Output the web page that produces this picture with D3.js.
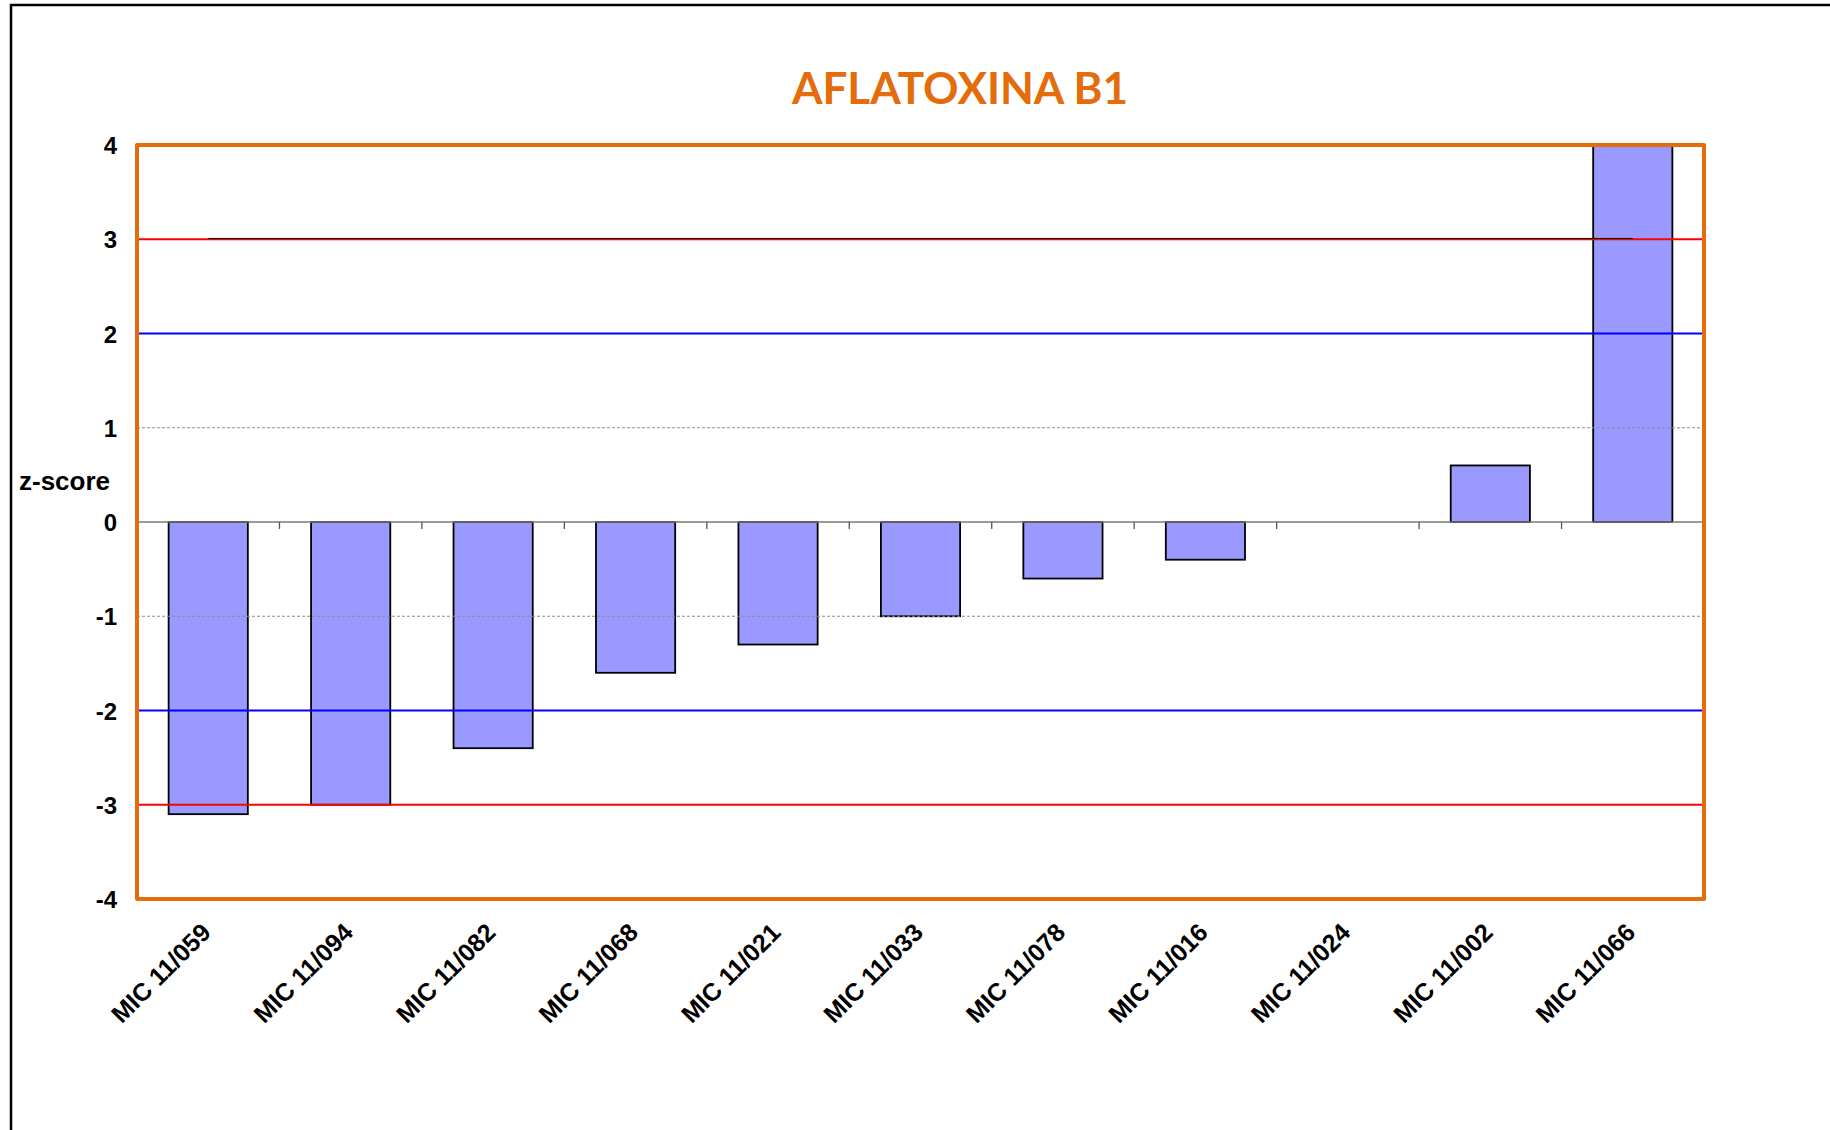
<!DOCTYPE html>
<html>
<head>
<meta charset="utf-8">
<script src="https://cdn.jsdelivr.net/npm/d3@7"></script>
<style>
  html, body { margin: 0; padding: 0; background: #fff; }
  svg { display: block; }
</style>
</head>
<body>
<svg id="chart" width="1830" height="1130"></svg>
<script>
// Laboratories and their z-scores for aflatoxin B1
const labs = ["MIC 11/059", "MIC 11/094", "MIC 11/082", "MIC 11/068", "MIC 11/021",
              "MIC 11/033", "MIC 11/078", "MIC 11/016", "MIC 11/024", "MIC 11/002", "MIC 11/066"];
const zScores = [-3.1, -3.0, -2.4, -1.6, -1.3, -1.0, -0.6, -0.4, 0, 0.6, 4.3];
const yTicks = [-4, -3, -2, -1, 0, 1, 2, 3, 4];
const warningLimits = [-2, 2];   // |z| = 2
const actionLimits = [-3, 3];    // |z| = 3
const gridValues = [-1, 1];
const title = "AFLATOXINA B1";
const yLabel = "z-score";

const svg = d3.select("#chart");
const plotLeft = 137, plotRight = 1704, plotTop = 145, plotBottom = 899;
const orange = "#E46C0A";

// outer frame of the chart object
svg.append("rect")
  .attr("x", 11).attr("y", 5).attr("width", 1840).attr("height", 1150)
  .attr("fill", "none").attr("stroke", "#000").attr("stroke-width", 2.5);

const y = d3.scaleLinear().domain([-4, 4]).range([plotBottom, plotTop]);
const x = d3.scaleBand().domain(labs).range([plotLeft, plotRight])
  .paddingInner(0.444).paddingOuter(0.222);
const edge = d3.scaleLinear().domain([0, labs.length]).range([plotLeft, plotRight]);

svg.append("defs").append("clipPath").attr("id", "plotClip")
  .append("rect").attr("x", plotLeft).attr("y", plotTop)
  .attr("width", plotRight - plotLeft).attr("height", plotBottom - plotTop);

// title
svg.append("text")
  .attr("x", 960).attr("y", 104)
  .attr("text-anchor", "middle")
  .attr("font-family", "Lato, 'Open Sans', sans-serif")
  .attr("font-weight", "bold").attr("font-size", 44)
  .attr("fill", orange)
  .text(title);

const plot = svg.append("g").attr("clip-path", "url(#plotClip)");

// bars
plot.selectAll("rect.bar")
  .data(labs.map((l, i) => ({ lab: l, z: zScores[i] })).filter(d => d.z !== 0))
  .join("rect")
  .attr("class", "bar")
  .attr("x", d => x(d.lab))
  .attr("width", x.bandwidth())
  .attr("y", d => y(Math.max(0, d.z)))
  .attr("height", d => Math.abs(y(d.z) - y(0)))
  .attr("fill", "#9999FF")
  .attr("stroke", "#000")
  .attr("stroke-width", 1.8);

// dashed gridlines at ±1
plot.selectAll("line.grid")
  .data(gridValues)
  .join("line")
  .attr("x1", plotLeft).attr("x2", plotRight)
  .attr("y1", d => y(d)).attr("y2", d => y(d))
  .attr("stroke", "#8c8c8c").attr("stroke-width", 1)
  .attr("stroke-dasharray", "3,2");

// zero axis with category separators
plot.append("line")
  .attr("x1", plotLeft).attr("x2", plotRight)
  .attr("y1", y(0)).attr("y2", y(0))
  .attr("stroke", "#7a7a7a").attr("stroke-width", 1.5);
plot.selectAll("line.sep")
  .data(d3.range(labs.length + 1))
  .join("line")
  .attr("x1", d => edge(d)).attr("x2", d => edge(d))
  .attr("y1", y(0)).attr("y2", y(0) + 7)
  .attr("stroke", "#555").attr("stroke-width", 1.3);

// limit lines
plot.selectAll("line.warn")
  .data(warningLimits)
  .join("line")
  .attr("x1", plotLeft).attr("x2", plotRight)
  .attr("y1", d => y(d)).attr("y2", d => y(d))
  .attr("stroke", "#0000FF").attr("stroke-width", 2);
plot.selectAll("line.action")
  .data(actionLimits)
  .join("line")
  .attr("x1", plotLeft).attr("x2", plotRight)
  .attr("y1", d => y(d)).attr("y2", d => y(d))
  .attr("stroke", "#FF0000").attr("stroke-width", 2);
// thin black reference line across the category centres at z = 3
plot.append("line")
  .attr("x1", x(labs[0]) + x.bandwidth() / 2)
  .attr("x2", x(labs[labs.length - 1]) + x.bandwidth() / 2)
  .attr("y1", y(3) - 0.8).attr("y2", y(3) - 0.8)
  .attr("stroke", "#000").attr("stroke-width", 1);

// plot frame
svg.append("rect")
  .attr("x", plotLeft).attr("y", plotTop)
  .attr("width", plotRight - plotLeft).attr("height", plotBottom - plotTop)
  .attr("fill", "none").attr("stroke", orange).attr("stroke-width", 4)
  .attr("stroke-linejoin", "round");

// y axis labels (plain hyphen for negatives)
const yAxis = svg.append("g")
  .attr("transform", `translate(${plotLeft - 20},0)`)
  .call(d3.axisLeft(y).tickValues(yTicks).tickSize(0).tickPadding(0).tickFormat(d => String(d)));
yAxis.select(".domain").remove();
yAxis.selectAll("text")
  .attr("font-family", "'Liberation Sans', Arial, sans-serif")
  .attr("font-weight", "bold").attr("font-size", 24)
  .attr("fill", "#000")
  .attr("dy", "0.36em");

svg.append("text")
  .attr("x", 19).attr("y", 490)
  .attr("font-family", "'Liberation Sans', Arial, sans-serif")
  .attr("font-weight", "bold").attr("font-size", 26)
  .text(yLabel);

// category labels, rotated
svg.append("g").selectAll("text")
  .data(labs)
  .join("text")
  .attr("transform", d => `translate(${x(d) + x.bandwidth() / 2 + 4},${plotBottom + 35}) rotate(-45)`)
  .attr("text-anchor", "end")
  .attr("font-family", "'Liberation Sans', Arial, sans-serif")
  .attr("font-weight", "bold").attr("font-size", 25)
  .text(d => d);
</script>
</body>
</html>
